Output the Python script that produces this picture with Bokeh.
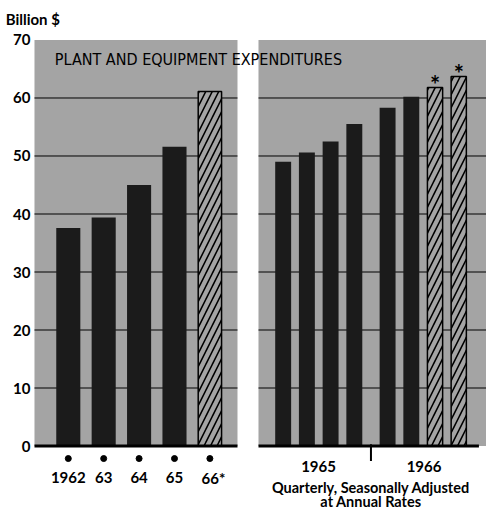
import numpy as np
from bokeh.plotting import figure
from bokeh.models import Range1d
from bokeh.core.properties import value
from bokeh.embed import file_html
from bokeh.resources import INLINE

# ---------------- data ----------------
years = ["1962", "63", "64", "65", "66*"]
annual = [37.6, 39.4, 45.0, 51.6, 61.1]
annual_anticipated = [False, False, False, False, True]

quarter_names = ["1965 I", "1965 II", "1965 III", "1965 IV",
                 "1966 I", "1966 II", "1966 III", "1966 IV"]
quarterly = [49.0, 50.6, 52.5, 55.5, 58.3, 60.2, 61.8, 63.7]
quarterly_anticipated = [False, False, False, False, False, False, True, True]

half_labels = ["1965", "1966"]
y_ticks = [0, 10, 20, 30, 40, 50, 60, 70]
y_tick_labels = ["0", "10", "20", "30", "40", "50", "60", "70"]
grid_values = [10, 20, 30, 40, 50, 60]
title_text = "PLANT AND EQUIPMENT EXPENDITURES"
unit_text = "Billion $"
note_lines = ["Quarterly, Seasonally Adjusted", "at Annual Rates"]

# ---------------- layout constants ----------------
GRAY = "#a4a4a4"
BAR = "#1b1b1b"
FONT = "Lato"

ax = np.arange(len(annual), dtype=float)                 # annual slots
qj = np.arange(len(quarterly))
qx = 6.07 + 0.67 * qj + 0.27 * (qj >= 4)                 # quarterly slots
divider = (qx[3] + qx[4]) / 2

x0, x1 = -1.915, 11.814
y0, y1 = -11.12, 76.81
panels_left = [-0.955, 5.373]
panels_right = [4.78, x1]

p = figure(width=486, height=510, x_range=Range1d(x0, x1), y_range=Range1d(y0, y1),
           x_axis_type=None, y_axis_type=None, output_backend="svg",
           toolbar_location=None, min_border=0,
           outline_line_color=None, background_fill_color="white",
           border_fill_color="white")
p.grid.visible = False

# panels
p.quad(left=panels_left, right=panels_right, bottom=0, top=70,
       fill_color=GRAY, line_color=None)

# gridlines
gx0, gx1, gy = [], [], []
for l, r in zip(panels_left, panels_right):
    for g in grid_values:
        gx0.append(l); gx1.append(r); gy.append(g)
p.segment(x0=gx0, x1=gx1, y0=gy, y1=gy, line_color="black", line_width=1)

# annual bars
a_ant = np.array(annual_anticipated)
a_val = np.array(annual)
p.vbar(x=ax[~a_ant], top=a_val[~a_ant], width=0.68, bottom=0,
       fill_color=BAR, line_color=None)
p.vbar(x=ax[a_ant], top=a_val[a_ant], width=0.66, bottom=0,
       fill_color=GRAY, line_color="black", line_width=1.5,
       hatch_pattern="/", hatch_color="black", hatch_weight=1.6, hatch_scale=13)

# quarterly bars
q_ant = np.array(quarterly_anticipated)
q_val = np.array(quarterly)
p.vbar(x=qx[~q_ant], top=q_val[~q_ant], width=0.45, bottom=0,
       fill_color=BAR, line_color=None)
p.vbar(x=qx[q_ant], top=q_val[q_ant], width=0.43, bottom=0,
       fill_color=GRAY, line_color="black", line_width=1.5,
       hatch_pattern="/", hatch_color="black", hatch_weight=1.6, hatch_scale=13)
p.text(x=qx[q_ant], y=q_val[q_ant] + 0.55, text=["*"] * int(q_ant.sum()),
       text_align="center", text_baseline="alphabetic", text_font=value(FONT),
       text_font_style="bold", text_font_size="24px", text_color="black")

# baselines
p.segment(x0=panels_left, x1=[panels_right[0], 11.6], y0=[0, 0], y1=[0, 0],
          line_color="black", line_width=3)

# y tick labels and unit
p.text(x=[-1.068] * len(y_ticks), y=y_ticks, text=y_tick_labels, text_align="right",
       text_baseline="middle", text_font=value(FONT), text_font_style="bold",
       text_font_size="15px", text_color="black")
p.text(x=[-1.77], y=[73.7], text=[unit_text], text_align="left",
       text_baseline="middle", text_font=value(FONT), text_font_style="bold",
       text_font_size="15px", text_color="black")

# annual dots and labels
p.scatter(x=ax, y=[-2.16] * len(ax), size=6, fill_color="black", line_color="black")
p.text(x=ax + np.array([0, 0, 0, 0, 0.1]), y=[-5.5] * len(ax), text=years,
       text_align="center", text_baseline="middle", text_font=value(FONT),
       text_font_style="bold", text_font_size="15px", text_color="black")

# quarterly year labels and divider
p.segment(x0=[divider], x1=[divider], y0=[0.3], y1=[-2.6], line_color="black", line_width=2)
p.text(x=[divider - 1.48, divider + 1.5], y=[-3.55, -3.55], text=half_labels,
       text_align="center", text_baseline="middle", text_font=value(FONT),
       text_font_style="bold", text_font_size="15px", text_color="black")
p.text(x=[divider, divider], y=[-7.1, -9.6], text=note_lines,
       text_align="center", text_baseline="middle", text_font=value(FONT),
       text_font_style="bold", text_font_size="14.5px", text_color="black")

# title inside the panels
p.text(x=[-0.38], y=[66.6], text=[title_text], text_align="left",
       text_baseline="middle",
       text_font=value("DejaVu Sans Condensed, Roboto, Liberation Sans, sans-serif"),
       text_font_size="16px", text_color="black")

open("out.html", "w").write(file_html(p, INLINE))
